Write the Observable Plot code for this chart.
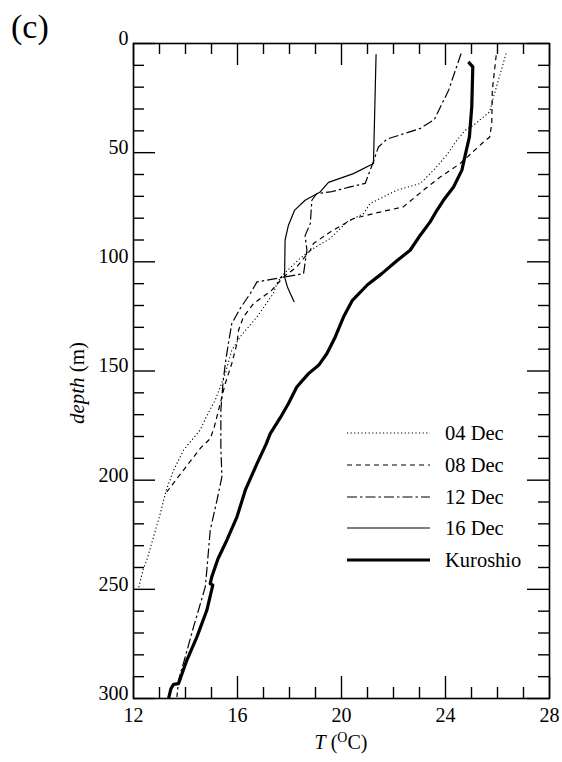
<!DOCTYPE html>
<html><head><meta charset="utf-8">
<script src="https://cdn.jsdelivr.net/npm/d3@7"></script>
<script src="https://cdn.jsdelivr.net/npm/@observablehq/plot@0.6"></script>
<style>
body{margin:0;background:#fff;}
#wrap{position:relative;width:562px;height:762px;font-family:"Liberation Serif","Times New Roman",serif;color:#000;}
#wrap svg text{font-family:"Liberation Serif","Times New Roman",serif;}
.abs{position:absolute;white-space:nowrap;font-family:"Liberation Serif","Times New Roman",serif;}
#wrap > svg{position:absolute;left:0;top:0;}
</style></head><body><div id="wrap"></div>
<script>
// Series names
const seriesNames = ["04 Dec", "08 Dec", "12 Dec", "16 Dec", "Kuroshio"];

// 04 Dec
const dec04Depth = [4.6, 24.4, 31.3, 37.4, 39.7, 44.3, 51, 57.3, 64.1, 67.2, 73.3, 77.9, 81.7, 89.3, 94, 98.5, 103, 106.5, 110, 114.5, 125.2, 134.4, 140.5, 151.2, 163.4, 171, 177.1, 186.3, 195.5, 204.6, 215.3, 236.7, 240.5, 249.7];
const dec04T     = [26.33, 25.85, 25.7, 25.08, 24.76, 24.44, 24.05, 23.6, 23.03, 22.13, 21.1, 20.85, 20.21, 19.57, 18.9, 18.4, 18.0, 17.7, 17.51, 17.38, 16.75, 16.1, 15.78, 15.53, 15.14, 14.8, 14.56, 13.92, 13.54, 13.26, 13.03, 12.51, 12.38, 12.19];
// 08 Dec
const dec08Depth = [5.4, 21.4, 36.7, 42.8, 45.8, 50.2, 55, 61.1, 67.2, 74.8, 77.9, 80.2, 86.3, 91.6, 94.7, 102.3, 106.9, 113, 119.1, 125.2, 131.3, 137.4, 146.6, 155.7, 168, 176, 181, 185, 189.4, 199.3, 205.4];
const dec08T     = [25.95, 25.8, 25.78, 25.7, 25.4, 25.0, 24.56, 23.8, 23.15, 22.38, 21.23, 20.46, 19.57, 18.92, 18.8, 18.28, 17.77, 17.32, 16.62, 16.23, 16.04, 15.98, 15.78, 15.53, 15.27, 15.1, 14.95, 14.6, 14.31, 13.67, 13.28];
// 12 Dec
const dec12Depth = [4.6, 21.4, 34.8, 38.9, 43.8, 47.4, 55, 64.1, 65.7, 68, 68.7, 71.8, 82.4, 88, 94.7, 105.4, 109.2, 114.5, 121.4, 128.3, 137.4, 146.6, 155.7, 168, 184.8, 198.5, 209.2, 223, 241.3, 248.9, 267.2, 281, 291.7, 299.3];
const dec12T     = [24.6, 24.12, 23.57, 23.03, 21.75, 21.42, 21.2, 20.91, 20.33, 19.57, 19.05, 18.86, 18.8, 18.6, 18.67, 18.54, 16.75, 16.49, 16.1, 15.78, 15.65, 15.53, 15.44, 15.36, 15.36, 15.4, 15.21, 14.95, 14.82, 14.76, 14.31, 13.99, 13.73, 13.67];
// 16 Dec
const dec16Depth = [4.9, 55, 59.6, 63.6, 68, 71.8, 76.3, 83.2, 90, 106.9, 111.5, 118.4];
const dec16T     = [21.33, 21.23, 20.46, 19.5, 19.18, 18.6, 18.2, 17.96, 17.83, 17.81, 17.92, 18.18];
// Kuroshio
const kuroDepth = [8.4, 10.7, 29, 42.8, 48.9, 58, 65.7, 71.8, 76.4, 81.7, 87.8, 94.7, 99.5, 105.4, 110.5, 117.6, 125.2, 134.4, 142, 147.4, 151.2, 157.3, 164.9, 171.5, 178.7, 183.5, 192.4, 204.6, 216.8, 227.5, 236, 244.3, 247.4, 248.1, 259.6, 271.8, 282.5, 293.2, 293.5, 295.5, 299.9];
const kuroT     = [24.88, 25.05, 25.01, 24.92, 24.8, 24.63, 24.31, 23.92, 23.67, 23.41, 23.03, 22.64, 22.13, 21.55, 21.0, 20.42, 20.08, 19.76, 19.44, 19.12, 18.73, 18.28, 17.96, 17.64, 17.26, 17.1, 16.75, 16.3, 15.98, 15.59, 15.25, 15.01, 14.95, 15.05, 14.82, 14.44, 14.05, 13.73, 13.54, 13.44, 13.35];

// Tick values
const xTickLabels = [12, 16, 20, 24, 28];
const xMinorTicks = [13, 14, 15, 17, 18, 19, 21, 22, 23, 25, 26, 27];
const yTickLabels = [0, 50, 100, 150, 200, 250, 300];
const yMinorTicks = [10, 20, 30, 40, 60, 70, 80, 90, 110, 120, 130, 140, 160, 170, 180, 190, 210, 220, 230, 240, 260, 270, 280, 290];

const styles = {
  "04 Dec":   {dash: "1.2,2.4", width: 1.1},
  "08 Dec":   {dash: "5,4", width: 1.2},
  "12 Dec":   {dash: "10,3,2.5,3", width: 1.2},
  "16 Dec":   {dash: null, width: 1.2},
  "Kuroshio": {dash: null, width: 3.2}
};

const pairs = [[dec04Depth, dec04T], [dec08Depth, dec08T], [dec12Depth, dec12T], [dec16Depth, dec16T], [kuroDepth, kuroT]];
const table = seriesNames.map((name, i) => pairs[i][0].map((d, j) => ({series: name, depth: d, T: pairs[i][1][j]})));

const W = 562, H = 762, mL = 133, mR = 13, mT = 43, mB = 64;
const fw = W - mL - mR, fh = H - mT - mB;
const majorLen = 22, minorLen = 11;

const marks = [];
table.forEach((rows, i) => {
  const s = styles[seriesNames[i]];
  marks.push(Plot.line(rows, {x: "T", y: "depth", stroke: "#000", strokeWidth: s.width, strokeDasharray: s.dash, strokeLinejoin: "round", strokeLinecap: "butt", curve: "linear"}));
});
// inward ticks on all four sides
marks.push(
  Plot.tickX(xTickLabels, {x: d => d, insetBottom: fh - majorLen, stroke: "#000", strokeWidth: 1.4}),
  Plot.tickX(xMinorTicks, {x: d => d, insetBottom: fh - minorLen, stroke: "#000", strokeWidth: 1.4}),
  Plot.tickX(xTickLabels, {x: d => d, insetTop: fh - majorLen, stroke: "#000", strokeWidth: 1.4}),
  Plot.tickX(xMinorTicks, {x: d => d, insetTop: fh - minorLen, stroke: "#000", strokeWidth: 1.4}),
  Plot.tickY(yTickLabels, {y: d => d, insetRight: fw - majorLen, stroke: "#000", strokeWidth: 1.4}),
  Plot.tickY(yMinorTicks, {y: d => d, insetRight: fw - minorLen, stroke: "#000", strokeWidth: 1.4}),
  Plot.tickY(yTickLabels, {y: d => d, insetLeft: fw - majorLen, stroke: "#000", strokeWidth: 1.4}),
  Plot.tickY(yMinorTicks, {y: d => d, insetLeft: fw - minorLen, stroke: "#000", strokeWidth: 1.4}),
  Plot.axisX(xTickLabels, {anchor: "bottom", tickSize: 0, tickPadding: 9, fontSize: 20, label: null, tickFormat: d => d}),
  Plot.axisY(yTickLabels, {anchor: "left", tickSize: 0, tickPadding: 5, dy: -5, fontSize: 20, label: null, tickFormat: d => d}),
  Plot.frame({stroke: "#000", strokeWidth: 1.6})
);

const chart = Plot.plot({
  width: W, height: H,
  marginLeft: mL, marginRight: mR, marginTop: mT, marginBottom: mB,
  style: {fontFamily: "'Liberation Serif','Times New Roman',serif", color: "#000", background: "#fff", fontSize: "20px"},
  x: {domain: [12, 28]},
  y: {domain: [0, 300], reverse: true},
  marks
});
const wrap = document.getElementById("wrap");
wrap.appendChild(chart);

function addDiv(html, css) {
  const d = document.createElement("div");
  d.className = "abs";
  d.innerHTML = html;
  Object.assign(d.style, css);
  wrap.appendChild(d);
  return d;
}
addDiv("(c)", {left: "11px", top: "10px", fontSize: "34px", lineHeight: "34px"});
addDiv('<i>T</i> (<sup style="font-size:14px;vertical-align:7px">O</sup>C)', {left: "241px", width: "200px", textAlign: "center", top: "727px", fontSize: "20px", lineHeight: "22px"});
addDiv('<i>depth</i> (m)', {left: "77px", top: "383px", fontSize: "21px", lineHeight: "22px", transform: "translate(-50%,-50%) rotate(-90deg)"});

// legend
const legendTop = 433, legendStep = 31.8;
seriesNames.forEach((name, i) => {
  const s = styles[name];
  const cy = legendTop + i * legendStep;
  const row = addDiv("", {left: "347px", top: (cy - 12) + "px", height: "24px", lineHeight: "24px", fontSize: "20.5px", display: "flex", alignItems: "center"});
  const svg = d3.create("svg").attr("width", 83).attr("height", 24).style("position", "static");
  svg.append("line").attr("x1", 0).attr("x2", 83).attr("y1", 12).attr("y2", 12)
    .attr("stroke", "#000").attr("stroke-width", s.width).attr("stroke-dasharray", s.dash);
  row.appendChild(svg.node());
  const t = document.createElement("span");
  t.textContent = name;
  t.style.marginLeft = "15px";
  row.appendChild(t);
});
</script></body></html>
